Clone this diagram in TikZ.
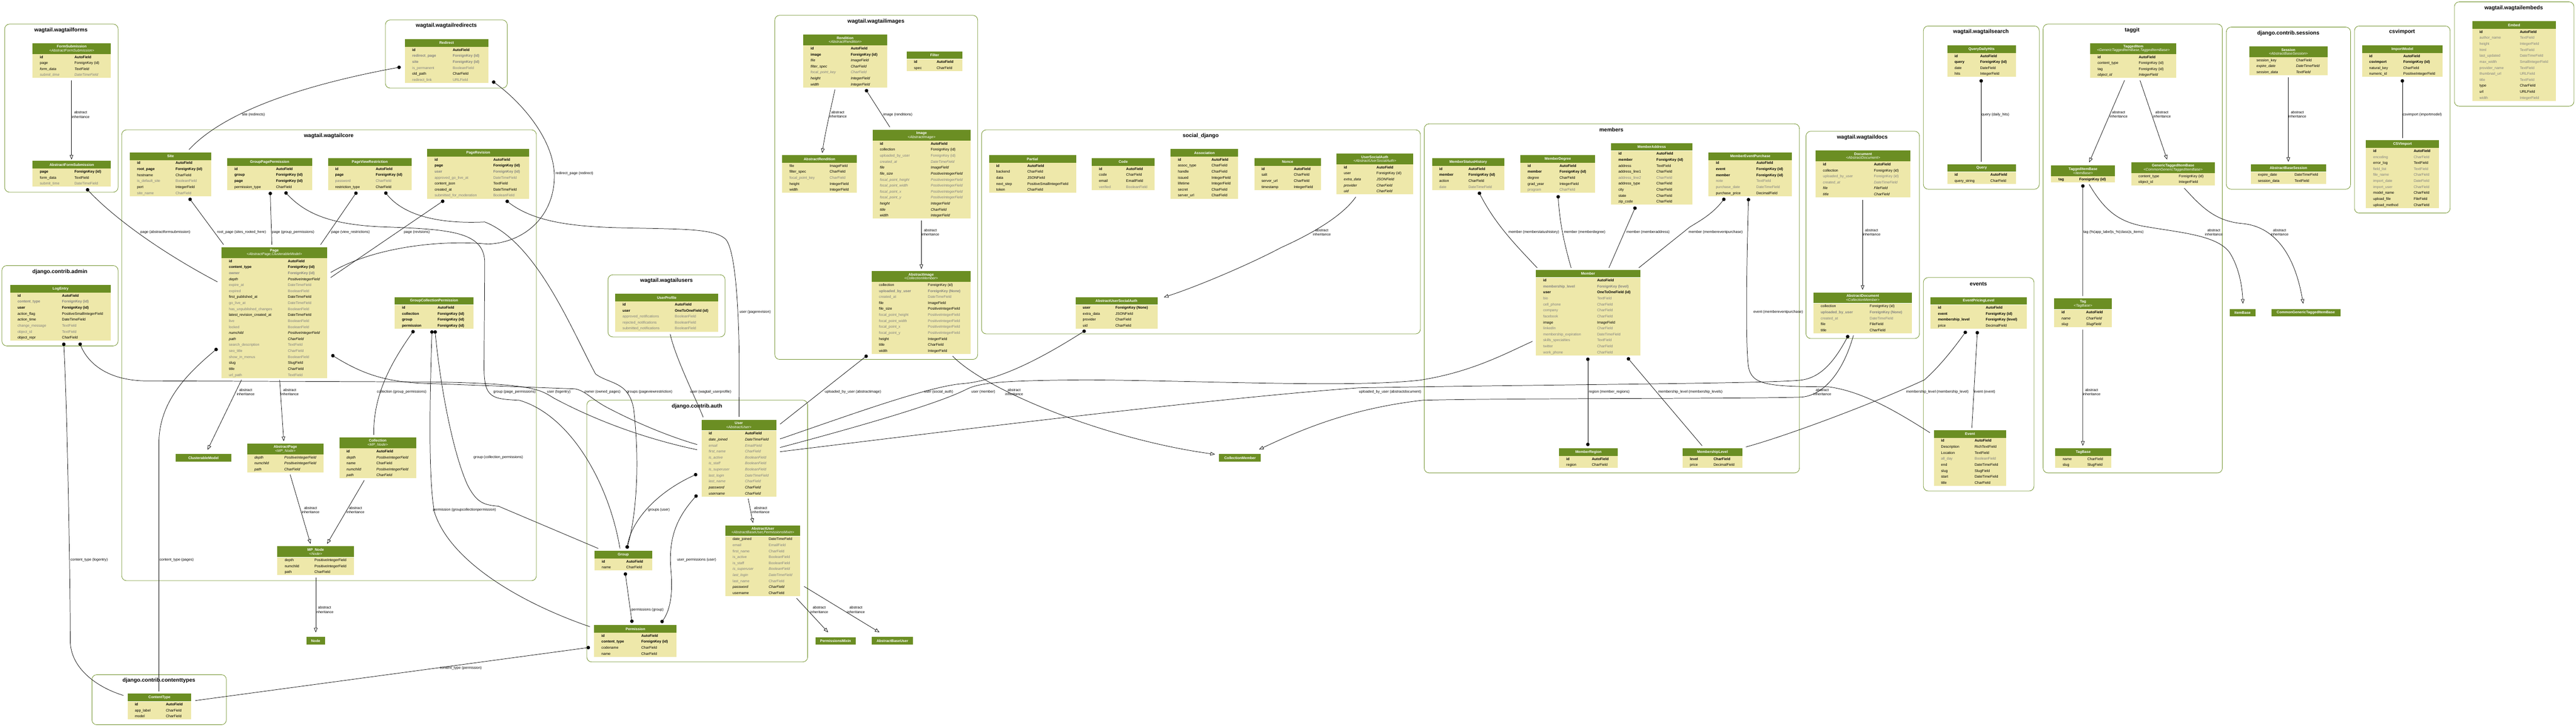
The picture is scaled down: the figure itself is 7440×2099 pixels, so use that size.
\documentclass[tikz,border=0pt]{standalone}
\usepackage{fontspec}
\setmainfont{Liberation Sans}
\usetikzlibrary{positioning}
\usetikzlibrary{arrows.meta}

\definecolor{headgreen}{HTML}{6B8E23}
\definecolor{fieldbg}{HTML}{EEE8AA}
\definecolor{fieldgray}{HTML}{808080}

\newlength{\colw}
\renewcommand{\arraystretch}{0.5}
\newcommand{\rowstrut}{\rule[-5.3pt]{0pt}{17.3pt}}
\newcommand{\rN}[2]{\rowstrut\makebox[\colw][l]{#1} & #2\\}
\newcommand{\rB}[2]{\rowstrut\makebox[\colw][l]{\bfseries #1} & \textbf{#2}\\}
\newcommand{\rI}[2]{\rowstrut\makebox[\colw][l]{\itshape #1} & \textit{#2}\\}
\newcommand{\rG}[2]{\rowstrut\makebox[\colw][l]{\color{fieldgray}#1} & \textcolor{fieldgray}{#2}\\}
\newcommand{\rGB}[2]{\rowstrut\makebox[\colw][l]{\color{fieldgray}\bfseries #1} & \textcolor{fieldgray}{\bfseries #2}\\}
\newcommand{\rGI}[2]{\rowstrut\makebox[\colw][l]{\color{fieldgray}\itshape #1} & \textcolor{fieldgray}{\itshape #2}\\}

% model table: name, x, y, width, offset of type column, title, rows
\newcommand{\mtab}[7]{%
  \node (#1) [mhead, minimum width=#4pt, minimum height=22pt] at (#2,#3) {\textbf{#6}};
  \node (#1-f) [mbody, below=0pt of #1] {\setlength{\colw}{\dimexpr #5pt-21pt\relax}\makebox[#4pt][l]{\begin{tabular}{@{\hspace{21pt}}l@{}l@{}}#7\end{tabular}}};
}
% same, with the parent classes under the title
\newcommand{\mtabs}[8]{%
  \node (#1) [mhead, minimum width=#4pt, minimum height=31pt] at (#2,#3) {\textbf{#6}\\\textit{#7}};
  \node (#1-f) [mbody, below=0pt of #1] {\setlength{\colw}{\dimexpr #5pt-21pt\relax}\makebox[#4pt][l]{\begin{tabular}{@{\hspace{21pt}}l@{}l@{}}#8\end{tabular}}};
}

\begin{document}
\catcode`\_=12
\begin{tikzpicture}[
    x=1pt, y=-1pt,
    mhead/.style={fill=headgreen, text=white, inner sep=0pt, anchor=north west, align=center, font=\fontsize{10.5}{11.4}\selectfont},
    mbody/.style={fill=fieldbg, inner sep=0pt, font=\fontsize{10.5}{12.6}\selectfont},
    cluster/.style={draw=headgreen, line width=1.2pt, rounded corners=14pt},
    ctitle/.style={font=\fontsize{15.6}{18}\selectfont\bfseries, inner sep=0pt},
    lbl/.style={font=\fontsize{10.5}{12}\selectfont, align=center, inner sep=0pt},
    rel/.style={line width=1.1pt},
    fk/.style={line width=1.1pt, {Circle[length=10pt]}-},
    mm/.style={line width=1.1pt, {Circle[length=10pt]}-{Circle[length=10pt]}},
    inh/.style={line width=1.1pt, -{Triangle[open, length=13pt, width=10pt]}}
    ]
    \useasboundingbox (0,0) rectangle (7440,2099);

    \draw[cluster] (13.6,69.6) rectangle (341,555);
    \node (forms-t) [ctitle] at (176,88) {wagtail.wagtailforms};
    \draw[cluster] (1113,57.6) rectangle (1465,254.5);
    \node (redirects-t) [ctitle] at (1289,74.3) {wagtail.wagtailredirects};
    \draw[cluster] (2237.7,44.2) rectangle (2823.7,1038);
    \node (images-t) [ctitle] at (2530,61.6) {wagtail.wagtailimages};
    \draw[cluster] (351.6,375) rectangle (1549,1677);
    \node (core-t) [ctitle] at (949.5,392) {wagtail.wagtailcore};
    \draw[cluster] (5.6,767) rectangle (341,999);
    \node (admin-t) [ctitle] at (173,785) {django.contrib.admin};
    \draw[cluster] (265.5,1948.5) rectangle (653.7,2093);
    \node (ctypes-t) [ctitle] at (459,1966) {django.contrib.contenttypes};
    \draw[cluster] (1756,793.5) rectangle (2094,973);
    \node (users-t) [ctitle] at (1925,811) {wagtail.wagtailusers};
    \draw[cluster] (1694.8,1155.7) rectangle (2332.6,1911.6);
    \node (auth-t) [ctitle] at (2013,1173) {django.contrib.auth};
    \draw[cluster] (2834.8,375) rectangle (4102.4,964.3);
    \node (social-t) [ctitle] at (3467.8,392.4) {social_django};
    \draw[cluster] (4113.5,357.6) rectangle (5197,1365.8);
    \node (members-t) [ctitle] at (4654,375) {members};
    \draw[cluster] (5216,379) rectangle (5543.7,977.7);
    \node (docs-t) [ctitle] at (5378.7,396.4) {wagtail.wagtaildocs};
    \draw[cluster] (5555,75) rectangle (5889.7,546.4);
    \node (search-t) [ctitle] at (5721.5,91.7) {wagtail.wagtailsearch};
    \draw[cluster] (5555,801.6) rectangle (5874.5,1418);
    \node (events-t) [ctitle] at (5714,819.7) {events};
    \draw[cluster] (5900.8,69.6) rectangle (6418.5,1365.8);
    \node (taggit-t) [ctitle] at (6158,87.7) {taggit};
    \draw[cluster] (6430,78.3) rectangle (6789,546.4);
    \node (sessions-t) [ctitle] at (6609,95.8) {django.contrib.sessions};
    \draw[cluster] (6800,75) rectangle (7076.5,615.4);
    \node (csv-t) [ctitle] at (6937.6,91.7) {csvimport};
    \draw[cluster] (7088.6,5.4) rectangle (7434,306.7);
    \node (embeds-t) [ctitle] at (7260,22.8) {wagtail.wagtailembeds};

    \mtabs{fsub}{94}{124.6}{226}{121}{FormSubmission}{<AbstractFormSubmission>}{\rB{id}{AutoField}\rN{page}{ForeignKey (id)}\rI{form_data}{TextField}\rGI{submit_time}{DateTimeField}}
    \mtab{afsub}{94}{464.7}{226}{121}{AbstractFormSubmission}{\rB{page}{ForeignKey (id)}\rN{form_data}{TextField}\rG{submit_time}{DateTimeField}}
    \mtab{logentry}{29.5}{823}{290.5}{149.5}{LogEntry}{\rB{id}{AutoField}\rGB{content_type}{ForeignKey (id)}\rB{user}{ForeignKey (id)}\rN{action_flag}{PositiveSmallIntegerField}\rN{action_time}{DateTimeField}\rG{change_message}{TextField}\rG{object_id}{TextField}\rN{object_repr}{CharField}}
    \mtab{site}{374.7}{440}{235.3}{132.3}{Site}{\rB{id}{AutoField}\rB{root_page}{ForeignKey (id)}\rN{hostname}{CharField}\rG{is_default_site}{BooleanField}\rN{port}{IntegerField}\rG{site_name}{CharField}}
    \mtab{gpp}{656}{456.7}{245}{141}{GroupPagePermission}{\rB{id}{AutoField}\rB{group}{ForeignKey (id)}\rB{page}{ForeignKey (id)}\rN{permission_type}{CharField}}
    \mtab{pvr}{947}{456.7}{241.6}{138}{PageViewRestriction}{\rB{id}{AutoField}\rB{page}{ForeignKey (id)}\rG{password}{CharField}\rN{restriction_type}{CharField}}
    \mtab{prev}{1234}{430}{294}{190.6}{PageRevision}{\rB{id}{AutoField}\rB{page}{ForeignKey (id)}\rGB{user}{ForeignKey (id)}\rG{approved_go_live_at}{DateTimeField}\rN{content_json}{TextField}\rN{created_at}{DateTimeField}\rG{submitted_for_moderation}{BooleanField}}
    \mtabs{page}{640}{714}{304.7}{191.5}{Page}{<AbstractPage,ClusterableModel>}{\rB{id}{AutoField}\rB{content_type}{ForeignKey (id)}\rGB{owner}{ForeignKey (id)}\rI{depth}{PositiveIntegerField}\rG{expire_at}{DateTimeField}\rG{expired}{BooleanField}\rN{first_published_at}{DateTimeField}\rG{go_live_at}{DateTimeField}\rG{has_unpublished_changes}{BooleanField}\rN{latest_revision_created_at}{DateTimeField}\rG{live}{BooleanField}\rG{locked}{BooleanField}\rI{numchild}{PositiveIntegerField}\rI{path}{CharField}\rG{search_description}{TextField}\rG{seo_title}{CharField}\rG{show_in_menus}{BooleanField}\rN{slug}{SlugField}\rN{title}{CharField}\rG{url_path}{TextField}}
    \mtab{gcp}{1140}{857.8}{227}{123.5}{GroupCollectionPermission}{\rB{id}{AutoField}\rB{collection}{ForeignKey (id)}\rB{group}{ForeignKey (id)}\rB{permission}{ForeignKey (id)}}
    \node (clmodel) [mhead, minimum width=159.5pt, minimum height=22.6pt] at (507.8,1311) {\textbf{ClusterableModel}};
    \mtabs{apage}{713.5}{1280.8}{220.8}{107.5}{AbstractPage}{<MP_Node>}{\rI{depth}{PositiveIntegerField}\rI{numchild}{PositiveIntegerField}\rI{path}{CharField}}
    \mtabs{collection}{979.8}{1263.4}{221.6}{107.2}{Collection}{<MP_Node>}{\rB{id}{AutoField}\rI{depth}{PositiveIntegerField}\rN{name}{CharField}\rI{numchild}{PositiveIntegerField}\rI{path}{CharField}}
    \mtabs{mpnode}{801}{1577.8}{221}{107}{MP_Node}{<Node>}{\rN{depth}{PositiveIntegerField}\rN{numchild}{PositiveIntegerField}\rN{path}{CharField}}
    \node (treenode) [mhead, minimum width=53pt, minimum height=22pt] at (885,1839.4) {\textbf{Node}};
    \mtab{ctype}{368.3}{2003.3}{184.2}{110.7}{ContentType}{\rB{id}{AutoField}\rN{app_label}{CharField}\rN{model}{CharField}}
    \mtab{redirect}{1169.5}{113}{240.5}{137.9}{Redirect}{\rB{id}{AutoField}\rGB{redirect_page}{ForeignKey (id)}\rGB{site}{ForeignKey (id)}\rG{is_permanent}{BooleanField}\rN{old_path}{CharField}\rG{redirect_link}{URLField}}
    \mtabs{rendition}{2320}{99.8}{241.4}{137}{Rendition}{<AbstractRendition>}{\rB{id}{AutoField}\rB{image}{ForeignKey (id)}\rI{file}{ImageField}\rI{filter_spec}{CharField}\rGI{focal_point_key}{CharField}\rI{height}{IntegerField}\rI{width}{IntegerField}}
    \mtab{arend}{2259}{448}{215.5}{137}{AbstractRendition}{\rN{file}{ImageField}\rN{filter_spec}{CharField}\rG{focal_point_key}{CharField}\rN{height}{IntegerField}\rN{width}{IntegerField}}
    \mtab{filter}{2618.8}{148}{161}{86.2}{Filter}{\rB{id}{AutoField}\rN{spec}{CharField}}
    \mtabs{image}{2520}{375}{283}{168}{Image}{<AbstractImage>}{\rB{id}{AutoField}\rN{collection}{ForeignKey (id)}\rG{uploaded_by_user}{ForeignKey (id)}\rGI{created_at}{DateTimeField}\rI{file}{ImageField}\rI{file_size}{PositiveIntegerField}\rGI{focal_point_height}{PositiveIntegerField}\rGI{focal_point_width}{PositiveIntegerField}\rGI{focal_point_x}{PositiveIntegerField}\rGI{focal_point_y}{PositiveIntegerField}\rI{height}{IntegerField}\rI{title}{CharField}\rI{width}{IntegerField}}
    \mtabs{aimage}{2517.5}{782.8}{285.5}{162.5}{AbstractImage}{<CollectionMember>}{\rN{collection}{ForeignKey (id)}\rGB{uploaded_by_user}{ForeignKey (None)}\rG{created_at}{DateTimeField}\rN{file}{ImageField}\rN{file_size}{PositiveIntegerField}\rG{focal_point_height}{PositiveIntegerField}\rG{focal_point_width}{PositiveIntegerField}\rG{focal_point_x}{PositiveIntegerField}\rG{focal_point_y}{PositiveIntegerField}\rN{height}{IntegerField}\rN{title}{CharField}\rN{width}{IntegerField}}
    \mtab{uprofile}{1777}{848.5}{297}{172}{UserProfile}{\rB{id}{AutoField}\rB{user}{OneToOneField (id)}\rG{approved_notifications}{BooleanField}\rG{rejected_notifications}{BooleanField}\rG{submitted_notifications}{BooleanField}}
    \mtabs{user}{2025.7}{1211.9}{216}{125.9}{User}{<AbstractUser>}{\rB{id}{AutoField}\rI{date_joined}{DateTimeField}\rGI{email}{EmailField}\rGI{first_name}{CharField}\rGI{is_active}{BooleanField}\rGI{is_staff}{BooleanField}\rGI{is_superuser}{BooleanField}\rGI{last_login}{DateTimeField}\rGI{last_name}{CharField}\rI{password}{CharField}\rI{username}{CharField}}
    \mtabs{auser}{2095}{1517}{216}{125}{AbstractUser}{<AbstractBaseUser,PermissionsMixin>}{\rN{date_joined}{DateTimeField}\rG{email}{EmailField}\rG{first_name}{CharField}\rG{is_active}{BooleanField}\rG{is_staff}{BooleanField}\rGI{is_superuser}{BooleanField}\rGI{last_login}{DateTimeField}\rG{last_name}{CharField}\rI{password}{CharField}\rN{username}{CharField}}
    \mtab{group}{1717}{1590.5}{166}{91.8}{Group}{\rB{id}{AutoField}\rN{name}{CharField}}
    \mtab{perm}{1716}{1805}{238}{136}{Permission}{\rB{id}{AutoField}\rB{content_type}{ForeignKey (id)}\rN{codename}{CharField}\rN{name}{CharField}}
    \node (pmixin) [mhead, minimum width=116pt, minimum height=22pt] at (2355,1840) {\textbf{PermissionsMixin}};
    \node (abuser) [mhead, minimum width=119.5pt, minimum height=22pt] at (2517.5,1839.4) {\textbf{AbstractBaseUser}};
    \node (cmember) [mhead, minimum width=120.6pt, minimum height=22.6pt] at (3521,1311) {\textbf{CollectionMember}};
    \mtab{partial}{2856}{448}{251.5}{111}{Partial}{\rB{id}{AutoField}\rN{backend}{CharField}\rN{data}{JSONField}\rN{next_step}{PositiveSmallIntegerField}\rN{token}{CharField}}
    \mtab{code}{3153}{456.7}{181.6}{99.5}{Code}{\rB{id}{AutoField}\rN{code}{CharField}\rN{email}{EmailField}\rG{verified}{BooleanField}}
    \mtab{assoc}{3381}{430}{195}{118}{Association}{\rB{id}{AutoField}\rN{assoc_type}{CharField}\rN{handle}{CharField}\rN{issued}{IntegerField}\rN{lifetime}{IntegerField}\rN{secret}{CharField}\rN{server_url}{CharField}}
    \mtab{nonce}{3622.4}{456.7}{192.2}{114.2}{Nonce}{\rB{id}{AutoField}\rN{salt}{CharField}\rN{server_url}{CharField}\rN{timestamp}{IntegerField}}
    \mtabs{usa}{3860}{443.3}{221}{115.6}{UserSocialAuth}{<AbstractUserSocialAuth>}{\rB{id}{AutoField}\rN{user}{ForeignKey (id)}\rI{extra_data}{JSONField}\rI{provider}{CharField}\rI{uid}{CharField}}
    \mtab{ausa}{3106}{857.8}{236.6}{115.5}{AbstractUserSocialAuth}{\rB{user}{ForeignKey (None)}\rN{extra_data}{JSONField}\rN{provider}{CharField}\rN{uid}{CharField}}
    \mtab{msh}{4135.8}{456.7}{209}{105.2}{MemberStatusHistory}{\rB{id}{AutoField}\rB{member}{ForeignKey (id)}\rN{action}{CharField}\rG{date}{DateTimeField}}
    \mtab{mdeg}{4391}{448}{216}{113}{MemberDegree}{\rB{id}{AutoField}\rB{member}{ForeignKey (id)}\rN{degree}{CharField}\rN{grad_year}{IntegerField}\rG{program}{CharField}}
    \mtab{maddr}{4653}{413}{234.6}{131}{MemberAddress}{\rB{id}{AutoField}\rB{member}{ForeignKey (id)}\rN{address}{TextField}\rN{address_line1}{CharField}\rG{address_line2}{CharField}\rN{address_type}{CharField}\rN{city}{CharField}\rN{state}{CharField}\rN{zip_code}{CharField}}
    \mtab{mep}{4934.6}{440}{240.8}{138}{MemberEventPurchase}{\rB{id}{AutoField}\rB{event}{ForeignKey (id)}\rB{member}{ForeignKey (id)}\rG{note}{TextField}\rG{purchase_date}{DateTimeField}\rN{purchase_price}{DecimalField}}
    \mtab{member}{4436}{778.8}{301}{176.6}{Member}{\rB{id}{AutoField}\rGB{membership_level}{ForeignKey (level)}\rB{user}{OneToOneField (id)}\rG{bio}{TextField}\rG{cell_phone}{CharField}\rG{company}{CharField}\rG{facebook}{CharField}\rN{image}{ImageField}\rG{linkedIn}{CharField}\rG{membership_expiration}{DateTimeField}\rG{skills_specialties}{TextField}\rG{twitter}{CharField}\rG{work_phone}{CharField}}
    \mtab{mregion}{4502.6}{1294.4}{170}{94.8}{MemberRegion}{\rB{id}{AutoField}\rN{region}{CharField}}
    \mtab{mlevel}{4859.7}{1294.4}{172.3}{89.3}{MembershipLevel}{\rB{level}{CharField}\rN{price}{DecimalField}}
    \mtabs{doc}{5244}{434.6}{273.4}{168}{Document}{<AbstractDocument>}{\rB{id}{AutoField}\rN{collection}{ForeignKey (id)}\rG{uploaded_by_user}{ForeignKey (id)}\rGI{created_at}{DateTimeField}\rI{file}{FileField}\rI{title}{CharField}}
    \mtabs{adoc}{5237.6}{844.4}{284.4}{162.4}{AbstractDocument}{<CollectionMember>}{\rN{collection}{ForeignKey (id)}\rGB{uploaded_by_user}{ForeignKey (None)}\rG{created_at}{DateTimeField}\rN{file}{FileField}\rN{title}{CharField}}
    \mtab{qdh}{5624}{130.6}{198}{95}{QueryDailyHits}{\rB{id}{AutoField}\rB{query}{ForeignKey (id)}\rN{date}{DateField}\rN{hits}{IntegerField}}
    \mtab{query}{5624}{474}{198}{124.6}{Query}{\rB{id}{AutoField}\rN{query_string}{CharField}}
    \mtab{epl}{5576}{857.8}{277}{159}{EventPricingLevel}{\rB{id}{AutoField}\rB{event}{ForeignKey (id)}\rB{membership_level}{ForeignKey (level)}\rN{price}{DecimalField}}
    \mtab{event}{5585}{1242}{209}{118}{Event}{\rB{id}{AutoField}\rN{Description}{RichTextField}\rN{Location}{TextField}\rG{all_day}{BooleanField}\rN{end}{DateTimeField}\rN{slug}{SlugField}\rN{start}{DateTimeField}\rN{title}{CharField}}
    \mtabs{titem}{6037}{124.6}{248.7}{140}{TaggedItem}{<GenericTaggedItemBase,TaggedItemBase>}{\rB{id}{AutoField}\rN{content_type}{ForeignKey (id)}\rN{tag}{ForeignKey (id)}\rI{object_id}{IntegerField}}
    \mtabs{tibase}{5924}{478}{184}{81}{TaggedItemBase}{<ItemBase>}{\rB{tag}{ForeignKey (id)}}
    \mtabs{gtibase}{6155}{468.8}{242}{137.5}{GenericTaggedItemBase}{<CommonGenericTaggedItemBase>}{\rN{content_type}{ForeignKey (id)}\rN{object_id}{IntegerField}}
    \mtabs{tag}{5932.7}{862}{166.3}{92.3}{Tag}{<TagBase>}{\rB{id}{AutoField}\rI{name}{CharField}\rI{slug}{SlugField}}
    \mtab{tagbase}{5936}{1294.4}{161}{92.4}{TagBase}{\rN{name}{CharField}\rN{slug}{SlugField}}
    \node (itembase) [mhead, minimum width=74.3pt, minimum height=22pt] at (6439.7,892) {\textbf{ItemBase}};
    \node (cgtib) [mhead, minimum width=199.3pt, minimum height=22pt] at (6559.7,892) {\textbf{CommonGenericTaggedItemBase}};
    \mtabs{session}{6496}{134}{226}{135}{Session}{<AbstractBaseSession>}{\rN{session_key}{CharField}\rI{expire_date}{DateTimeField}\rI{session_data}{TextField}}
    \mtab{absession}{6500.5}{474}{217.5}{126.5}{AbstractBaseSession}{\rN{expire_date}{DateTimeField}\rN{session_data}{TextField}}
    \mtab{imodel}{6821.5}{130.6}{233.5}{119.5}{ImportModel}{\rB{id}{AutoField}\rB{csvimport}{ForeignKey (id)}\rN{natural_key}{CharField}\rN{numeric_id}{PositiveIntegerField}}
    \mtab{csvimp}{6833}{405}{211.6}{138}{CSVImport}{\rB{id}{AutoField}\rG{encoding}{CharField}\rN{error_log}{TextField}\rG{field_list}{TextField}\rG{file_name}{CharField}\rG{import_date}{DateField}\rG{import_user}{CharField}\rN{model_name}{CharField}\rN{upload_file}{FileField}\rN{upload_method}{CharField}}
    \mtab{embed}{7140}{61}{242}{137.6}{Embed}{\rB{id}{AutoField}\rG{author_name}{TextField}\rG{height}{IntegerField}\rG{html}{TextField}\rG{last_updated}{DateTimeField}\rG{max_width}{SmallIntegerField}\rG{provider_name}{TextField}\rG{thumbnail_url}{URLField}\rG{title}{TextField}\rN{type}{CharField}\rN{url}{URLField}\rG{width}{IntegerField}}

    \draw[inh] ([xshift=112.5pt,yshift=-7pt]fsub-f.south west) -- ([xshift=112.5pt,yshift=4pt]afsub.north west);
    \draw[fk] ([xshift=155.5pt,yshift=-5pt]afsub-f.south west) .. controls (320,620) and (450,720) .. ([xshift=-12pt,yshift=-100pt]page.north west);
    \draw[fk] ([xshift=154.5pt,yshift=-5pt]logentry-f.south west) .. controls (195,1200) and (203,1700) .. (203,1850) .. controls (203,1930) and (280,1985) .. ([xshift=-12pt,yshift=-5pt]ctype.north west);
    \draw[fk] ([xshift=200.1pt,yshift=-5pt]logentry-f.south west) .. controls (250,1040) and (300,1098) .. (420,1100) -- (1250,1103) .. controls (1540,1108) and (1560,1125) .. (1600,1150) .. controls (1750,1230) and (1900,1275) .. ([xshift=-12pt,yshift=-87pt]user.north west);
    \draw[fk] ([xshift=-12pt,yshift=-292pt]page.north west) .. controls (540,1080) and (459,1160) .. (459,1280) -- ([xshift=90.7pt,yshift=6.7pt]ctype.north west);
    \draw[fk] ([xshift=-12pt,yshift=-64.5pt]perm.north west) -- ([xshift=11pt,yshift=-20pt]ctype.north east);
    \draw[fk] ([xshift=-12pt,yshift=-80.5pt]redirect.north west) .. controls (850,250) and (640,330) .. ([xshift=171.3pt,yshift=8pt]site.north west);
    \draw[fk] ([xshift=11.4pt,yshift=5.4pt]redirect-f.south east) .. controls (1500,290) and (1601,400) .. (1601,509) .. controls (1601,620) and (1520,700) .. (1409,705) .. controls (1280,692) and (1080,712) .. ([xshift=10pt,yshift=-73pt]page.north east);
    \draw[fk] ([xshift=48.7pt,yshift=-4.5pt]prev-f.south west) -- ([xshift=10pt,yshift=-87.6pt]page.north east);
    \draw[fk] ([xshift=227pt,yshift=-4.5pt]prev-f.south west) .. controls (1540,640) and (1650,655) .. (1800,658) .. controls (1980,662) and (2060,660) .. (2095,690) .. controls (2125,720) and (2134,900) .. (2135,1050) -- ([xshift=108.8pt,yshift=8pt]user.north west);
    \draw[fk] ([xshift=171.3pt,yshift=-5pt]site-f.south west) -- ([xshift=5.7pt,yshift=7.5pt]page.north west);
    \draw[fk] ([xshift=124.5pt,yshift=-5pt]gpp-f.south west) -- ([xshift=145pt,yshift=7.5pt]page.north west);
    \draw[fk] ([xshift=83.8pt,yshift=-5pt]pvr-f.south west) -- ([xshift=286pt,yshift=7.5pt]page.north west);
    \draw[fk] ([xshift=166.7pt,yshift=-5pt]gpp-f.south west) .. controls (880,615) and (950,648) .. (1100,655) .. controls (1300,662) and (1400,668) .. (1400,760) -- (1398,1060) .. controls (1398,1150) and (1420,1152) .. (1500,1156) .. controls (1650,1200) and (1760,1400) .. ([xshift=73.5pt,yshift=6.5pt]group.north west);
    \draw[mm] ([xshift=164.3pt,yshift=-5pt]pvr-f.south west) .. controls (1160,615) and (1250,648) .. (1400,641) .. controls (1550,700) and (1650,950) .. (1720,1080) .. controls (1760,1110) and (1815,1100) .. (1830,1180) .. controls (1850,1350) and (1835,1500) .. ([xshift=93.4pt,yshift=6pt]group.north west);
    \draw[fk] ([xshift=12pt,yshift=-310.6pt]page.north east) .. controls (1050,1082) and (1120,1106) .. (1250,1108) -- (1660,1123) .. controls (1690,1128) and (1705,1150) .. (1750,1175) .. controls (1850,1228) and (1950,1266) .. ([xshift=-12pt,yshift=-72pt]user.north west);
    \draw[fk] ([xshift=55.8pt,yshift=-4pt]gcp-f.south west) .. controls (1120,1060) and (1078,1150) .. ([xshift=99.6pt,yshift=7.4pt]collection.north west);
    \draw[fk] ([xshift=116.4pt,yshift=-4pt]gcp-f.south west) .. controls (1270,1100) and (1305,1300) .. (1350,1400) .. controls (1378,1455) and (1400,1458) .. (1440,1462) -- ([xshift=11pt,yshift=6.5pt]group.north west);
    \draw[fk] ([xshift=107.6pt,yshift=-4pt]gcp-f.south west) .. controls (1243,1100) and (1235,1380) .. (1255,1480) .. controls (1300,1620) and (1500,1740) .. ([xshift=-12pt,yshift=-5pt]perm.north west);
    \draw[mm] ([xshift=-12pt,yshift=-156.8pt]user.north west) .. controls (1900,1420) and (1825,1500) .. ([xshift=93.4pt,yshift=6pt]group.north west);
    \draw[mm] ([xshift=-12pt,yshift=-217pt]user.north west) .. controls (1950,1500) and (1930,1560) .. (1938,1650) .. controls (1945,1730) and (1930,1770) .. ([xshift=193.3pt,yshift=6pt]perm.north west);
    \draw[mm] ([xshift=88.6pt,yshift=-5pt]group-f.south west) -- ([xshift=109.6pt,yshift=6pt]perm.north west);
    \draw[rel] ([xshift=158.6pt,yshift=-7pt]uprofile-f.south west) .. controls (1950,1030) and (2000,1130) .. ([xshift=5.3pt,yshift=7pt]user.north west);
    \draw[fk] ([xshift=-12pt,yshift=-3.5pt]aimage-f.south west) -- ([xshift=11pt,yshift=-13pt]user.north east);
    \draw[fk] ([xshift=29.4pt,yshift=-4pt]ausa-f.south west) .. controls (3000,1040) and (2880,1100) .. (2780,1108) .. controls (2680,1116) and (2450,1200) .. ([xshift=11pt,yshift=-55.7pt]user.north east);
    \draw[rel] ([xshift=11pt,yshift=-80.5pt]user.north east) .. controls (2450,1240) and (2700,1170) .. (2790,1125) .. controls (2830,1104) and (2900,1099) .. (3138,1097) .. controls (3500,1100) and (3900,1120) .. (4100,1098) .. controls (4250,1075) and (4350,1020) .. ([xshift=-10pt,yshift=-207pt]member.north west);
    \draw[fk] ([xshift=101.2pt,yshift=-5pt]adoc-f.south west) .. controls (5300,1040) and (5260,1092) .. (5199,1098) .. controls (5100,1108) and (4500,1110) .. (3925,1120) .. controls (3500,1150) and (2700,1250) .. ([xshift=11pt,yshift=-92.6pt]user.north east);
    \draw[inh] ([xshift=115.4pt,yshift=-6pt]adoc-f.south west) .. controls (5320,1085) and (5260,1145) .. (5199,1147) .. controls (5000,1152) and (4300,1150) .. (4108,1156) .. controls (3900,1180) and (3760,1240) .. ([xshift=-5.6pt,yshift=13pt]cmember.north east);
    \draw[inh] ([xshift=233.5pt,yshift=-6pt]aimage-f.south west) .. controls (2850,1130) and (3200,1270) .. ([xshift=-12pt,yshift=-1pt]cmember.north west);
    \draw[fk] ([xshift=134.8pt,yshift=-5pt]msh-f.south west) .. controls (4320,650) and (4380,710) .. ([xshift=3.6pt,yshift=5.3pt]member.north west);
    \draw[fk] ([xshift=109pt,yshift=-6pt]mdeg-f.south west) .. controls (4505,650) and (4520,710) .. ([xshift=101.6pt,yshift=5.3pt]member.north west);
    \draw[fk] ([xshift=71pt,yshift=-5pt]maddr-f.south west) -- ([xshift=210.8pt,yshift=5.3pt]member.north west);
    \draw[fk] ([xshift=47.1pt,yshift=-5pt]mep-f.south west) .. controls (4945,620) and (4905,640) .. (4880,656) -- ([xshift=297pt,yshift=5.3pt]member.north west);
    \draw[mm] ([xshift=150pt,yshift=-6pt]member-f.south west) -- ([xshift=83.4pt,yshift=6pt]mregion.north west);
    \draw[fk] ([xshift=264pt,yshift=-6pt]member-f.south west) -- ([xshift=56.3pt,yshift=7pt]mlevel.north west);
    \draw[fk] ([xshift=115.4pt,yshift=-5pt]mep-f.south west) .. controls (5046,700) and (5040,1000) .. (5050,1060) .. controls (5060,1110) and (5100,1117) .. (5280,1117) .. controls (5380,1130) and (5480,1190) .. ([xshift=-11pt,yshift=-7.6pt]event.north west);
    \draw[fk] ([xshift=103pt,yshift=-6pt]epl-f.south west) .. controls (5640,1010) and (5600,1060) .. (5558,1097) .. controls (5400,1170) and (5150,1262) .. ([xshift=10pt,yshift=3.6pt]mlevel.north east);
    \draw[fk] ([xshift=135pt,yshift=-6pt]epl-f.south west) -- ([xshift=110pt,yshift=6pt]event.north west);
    \draw[inh] ([xshift=135.5pt,yshift=-6.6pt]doc-f.south west) -- ([xshift=141.9pt,yshift=7.4pt]adoc.north west);
    \draw[fk] ([xshift=98pt,yshift=-6pt]qdh-f.south west) -- ([xshift=98pt,yshift=6.6pt]query.north west);
    \draw[fk] ([xshift=116.9pt,yshift=-6pt]imodel-f.south west) -- ([xshift=105.4pt,yshift=6.6pt]csvimp.north west);
    \draw[inh] ([xshift=113pt,yshift=-6pt]session-f.south west) -- ([xshift=108.5pt,yshift=6.6pt]absession.north west);
    \draw[inh] ([xshift=99pt,yshift=-6.5pt]titem-f.south west) -- ([xshift=110pt,yshift=9.2pt]tibase.north west);
    \draw[inh] ([xshift=143.6pt,yshift=-6.5pt]titem-f.south west) -- ([xshift=104pt,yshift=8pt]gtibase.north west);
    \draw[fk] ([xshift=91.6pt,yshift=-5pt]tibase-f.south west) -- ([xshift=82.9pt,yshift=7pt]tag.north west);
    \draw[inh] ([xshift=110pt,yshift=-5.7pt]tibase-f.south west) .. controls (6080,610) and (6120,642) .. (6200,655) .. controls (6300,672) and (6405,680) .. (6440,730) .. controls (6468,775) and (6476,830) .. ([xshift=38.3pt,yshift=15pt]itembase.north west);
    \draw[inh] ([xshift=153.4pt,yshift=-8pt]gtibase-f.south west) .. controls (6360,600) and (6400,640) .. (6480,646) .. controls (6560,655) and (6625,720) .. ([xshift=92.3pt,yshift=15pt]cgtib.north west);
    \draw[inh] ([xshift=82.9pt,yshift=-6pt]tag-f.south west) -- ([xshift=79.6pt,yshift=7pt]tagbase.north west);
    \draw[fk] ([xshift=180pt,yshift=-5pt]rendition-f.south west) -- ([xshift=50pt,yshift=8pt]image.north west);
    \draw[inh] ([xshift=91.5pt,yshift=-6pt]rendition-f.south west) .. controls (2398,320) and (2382,390) .. ([xshift=115.8pt,yshift=6pt]arend.north west);
    \draw[inh] ([xshift=141pt,yshift=-5pt]image-f.south west) -- ([xshift=143.5pt,yshift=6pt]aimage.north west);
    \draw[inh] ([xshift=55.8pt,yshift=-7.2pt]usa-f.south west) .. controls (3880,620) and (3800,670) .. (3700,715) .. controls (3600,768) and (3450,830) .. ([xshift=18.4pt,yshift=-0.7pt]ausa.north east);
    \draw[inh] ([xshift=57.5pt,yshift=-5.3pt]page-f.south west) -- ([xshift=91.7pt,yshift=12pt]clmodel.north west);
    \draw[inh] ([xshift=167.6pt,yshift=-5.3pt]page-f.south west) -- ([xshift=106pt,yshift=6.8pt]apage.north west);
    \draw[inh] ([xshift=124.5pt,yshift=-6pt]apage-f.south west) -- ([xshift=95.8pt,yshift=7.3pt]mpnode.north west);
    \draw[inh] ([xshift=72.2pt,yshift=-5.6pt]collection-f.south west) -- ([xshift=143.7pt,yshift=7.3pt]mpnode.north west);
    \draw[inh] ([xshift=111pt,yshift=-6pt]mpnode-f.south west) -- ([xshift=27pt,yshift=13pt]treenode.north west);
    \draw[inh] ([xshift=135.3pt,yshift=-6pt]user-f.south west) -- ([xshift=79.7pt,yshift=7pt]auser.north west);
    \draw[inh] ([xshift=205.7pt,yshift=-6pt]auser-f.south west) -- ([xshift=36.6pt,yshift=14pt]pmixin.north west);
    \draw[inh] ([xshift=11pt,yshift=-176.6pt]auser.north east) -- ([xshift=22.5pt,yshift=13.4pt]abuser.north west);

    \node (l-fsub) [lbl] at (233,331) {abstract\\inheritance};
    \node (l-afsub) [lbl] at (477.5,671) {page (abstractformsubmission)};
    \node (l-site) [lbl] at (732,331) {site (redirects)};
    \node (l-redir) [lbl] at (1659,501) {redirect_page (redirect)};
    \node (l-rev) [lbl] at (1204,671) {page (revisions)};
    \node (l-revuser) [lbl] at (2181,901.4) {user (pagerevision)};
    \node (l-root) [lbl] at (697.5,671) {root_page (sites_rooted_here)};
    \node (l-gpp) [lbl] at (846.6,671) {page (group_permissions)};
    \node (l-pvr) [lbl] at (1012.4,671) {page (view_restrictions)};
    \node (l-gppgroup) [lbl] at (1486,1132.4) {group (page_permissions)};
    \node (l-loguser) [lbl] at (1614,1132.4) {user (logentry)};
    \node (l-owner) [lbl] at (1740,1132.4) {owner (owned_pages)};
    \node (l-pvrgroup) [lbl] at (1875.8,1132.4) {groups (pageviewrestriction)};
    \node (l-uprofile) [lbl] at (2052.8,1132.4) {user (wagtail_userprofile)};
    \node (l-imguser) [lbl] at (2463.6,1132.4) {uploaded_by_user (abstractimage)};
    \node (l-social) [lbl] at (2711,1132.4) {user (social_auth)};
    \node (l-member) [lbl] at (2840,1132.4) {user (member)};
    \node (l-aimage) [lbl] at (2929,1132.4) {abstract\\inheritance};
    \node (l-docuser) [lbl] at (4014.7,1132.4) {uploaded_by_user (abstractdocument)};
    \node (l-region) [lbl] at (4647.6,1132.4) {region (member_regions)};
    \node (l-levels) [lbl] at (4882,1132.4) {membership_level (membership_levels)};
    \node (l-adoc) [lbl] at (5263,1132.4) {abstract\\inheritance};
    \node (l-epllevel) [lbl] at (5595.5,1132.4) {membership_level (membership_level)};
    \node (l-eplevent) [lbl] at (5732,1132.4) {event (event)};
    \node (l-tag) [lbl] at (6041,1132.4) {abstract\\inheritance};
    \node (l-logct) [lbl] at (257.5,1617.3) {content_type (logentry)};
    \node (l-pagect) [lbl] at (510,1617.3) {content_type (pages)};
    \node (l-gcpcoll) [lbl] at (1160,1132.4) {collection (group_permissions)};
    \node (l-clmodel) [lbl] at (709.5,1132.4) {abstract\\inheritance};
    \node (l-apage) [lbl] at (837,1132.4) {abstract\\inheritance};
    \node (l-mpnode1) [lbl] at (897,1472.8) {abstract\\inheritance};
    \node (l-mpnode2) [lbl] at (1026.8,1472.8) {abstract\\inheritance};
    \node (l-node) [lbl] at (937.5,1761) {abstract\\inheritance};
    \node (l-gcpgroup) [lbl] at (1439,1321.2) {group (collection_permissions)};
    \node (l-gcpperm) [lbl] at (1341.6,1472.8) {permission (groupcollectionpermission)};
    \node (l-groups) [lbl] at (1903,1472.8) {groups (user)};
    \node (l-uperms) [lbl] at (2012,1617.3) {user_permissions (user)};
    \node (l-gperms) [lbl] at (1870,1761) {permissions (group)};
    \node (l-auser) [lbl] at (2197,1472.8) {abstract\\inheritance};
    \node (l-pmixin) [lbl] at (2366,1761) {abstract\\inheritance};
    \node (l-abuser) [lbl] at (2472,1761) {abstract\\inheritance};
    \node (l-permct) [lbl] at (1331,1929.7) {content_type (permission)};
    \node (l-rend) [lbl] at (2593,330.8) {image (renditions)};
    \node (l-arend) [lbl] at (2420,330.8) {abstract\\inheritance};
    \node (l-image) [lbl] at (2687,671) {abstract\\inheritance};
    \node (l-usa) [lbl] at (3817.8,671) {abstract\\inheritance};
    \node (l-msh) [lbl] at (4430,671) {member (memberstatushistory)};
    \node (l-mdeg) [lbl] at (4576.7,671) {member (memberdegree)};
    \node (l-maddr) [lbl] at (4760,671) {member (memberaddress)};
    \node (l-mep) [lbl] at (4955,671) {member (membereventpurchase)};
    \node (l-mepevent) [lbl] at (5135.5,901.4) {event (membereventpurchase)};
    \node (l-doc) [lbl] at (5405.5,671) {abstract\\inheritance};
    \node (l-query) [lbl] at (5763,330.8) {query (daily_hits)};
    \node (l-tibase) [lbl] at (6119,330.8) {abstract\\inheritance};
    \node (l-gtibase) [lbl] at (6244,330.8) {abstract\\inheritance};
    \node (l-tagfk) [lbl] at (6104,671) {tag (\%(app_label)s_\%(class)s_items)};
    \node (l-itembase) [lbl] at (6394,671) {abstract\\inheritance};
    \node (l-cgtib) [lbl] at (6584,671) {abstract\\inheritance};
    \node (l-session) [lbl] at (6635,330.8) {abstract\\inheritance};
    \node (l-csv) [lbl] at (6996,330.8) {csvimport (importmodel)};
\end{tikzpicture}
\end{document}
